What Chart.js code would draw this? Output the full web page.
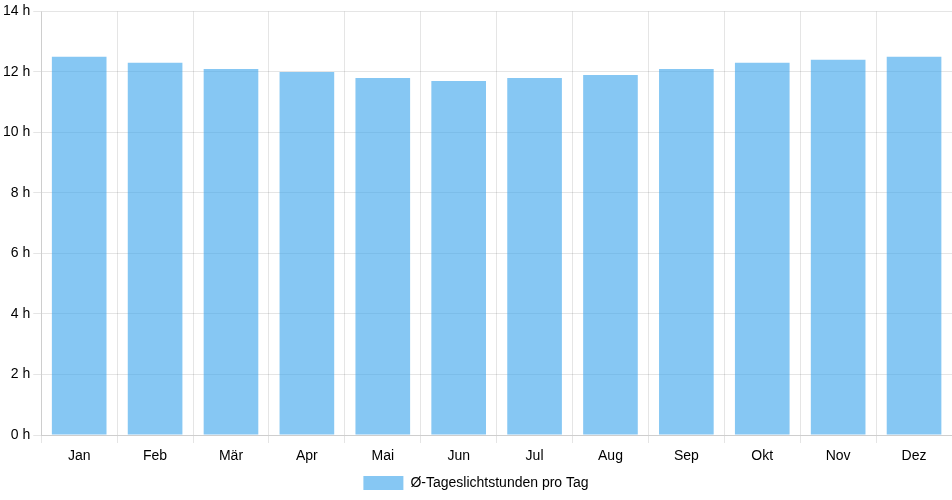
<!DOCTYPE html>
<html>
<head>
<meta charset="utf-8">
<script src="https://cdn.jsdelivr.net/npm/chart.js@4"></script>
<style>
html,body{margin:0;padding:0;background:#fff;}
#wrap{position:relative;width:952px;height:500px;}
</style>
</head>
<body>
<div id="wrap"><canvas id="c"></canvas></div>
<script>
const categories = ["Jan","Feb","Mär","Apr","Mai","Jun","Jul","Aug","Sep","Okt","Nov","Dez"];
const daylightHours = [12.5,12.3,12.1,12.0,11.8,11.7,11.8,11.9,12.1,12.3,12.4,12.5];
const seriesLabel = "Ø-Tageslichtstunden pro Tag";
const yTickSuffix = " h";

Chart.defaults.font.family = "'Liberation Sans', Arial, Helvetica, sans-serif";
Chart.defaults.font.size = 14;
Chart.defaults.color = "#000";

new Chart(document.getElementById('c'), {
  type: 'bar',
  data: {
    labels: categories,
    datasets: [{
      label: seriesLabel,
      data: daylightHours,
      backgroundColor: 'rgba(54,162,235,0.6)',
      borderWidth: 0
    }]
  },
  options: {
    responsive: true,
    maintainAspectRatio: false,
    animation: false,
    layout: { padding: { top: 4, right: 0, bottom: 0 } },
    plugins: {
      legend: { position: 'bottom', labels: { boxWidth: 40, boxHeight: 14, padding: 6 } },
      tooltip: { enabled: false }
    },
    scales: {
      x: {
        grid: { color: 'rgba(0,0,0,0.1)' },
        ticks: { padding: 3, font: { lineHeight: 1.5 } }
      },
      y: {
        min: 0,
        max: 14,
        ticks: { stepSize: 2, callback: v => v + yTickSuffix },
        grid: { color: 'rgba(0,0,0,0.1)' }
      }
    }
  }
});
</script>
</body>
</html>
